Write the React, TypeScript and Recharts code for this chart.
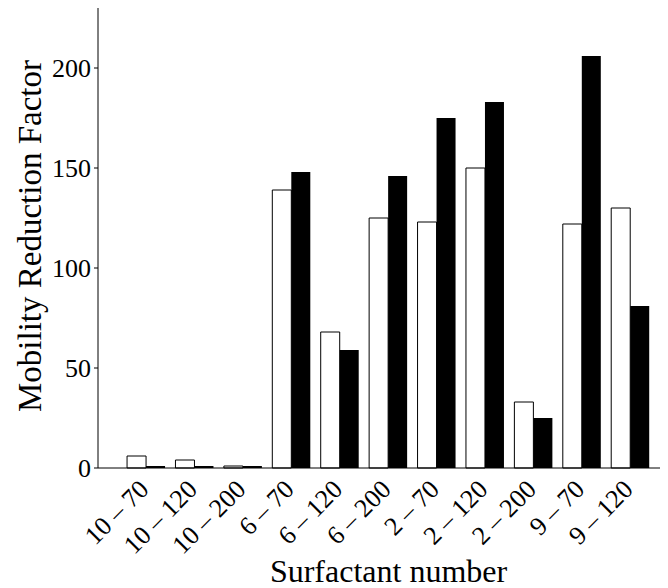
import { BarChart, Bar, XAxis, YAxis } from 'recharts';

const categories = ['10 – 70', '10 – 120', '10 – 200', '6 – 70', '6 – 120', '6 – 200', '2 – 70', '2 – 120', '2 – 200', '9 – 70', '9 – 120'];
const whiteValues = [6, 4, 1, 139, 68, 125, 123, 150, 33, 122, 130];
const blackValues = [1, 1, 1, 148, 59, 146, 175, 183, 25, 206, 81];
const yTicks = [0, 50, 100, 150, 200];

const data = categories.map((name, i) => ({
    x: i + 1,
    name,
    a: whiteValues[i],
    b: blackValues[i],
}));

const FONT = '"Liberation Serif", "Times New Roman", serif';

const XTick = (props: any) => {
    const { x, y, payload } = props;
    const label = categories[payload.value - 1] ?? '';
    return (
        <g transform={`translate(${x - 9},${y + 2})`}>
            <text x={0} y={0} dy="0.7em" textAnchor="end" transform="rotate(-45)"
                fontFamily={FONT} fontSize={26} fill="#000">
                {label}
            </text>
        </g>
    );
};

export default function App() {
    return (
        <div style={{ width: 660, height: 580, overflow: 'hidden' }}>
            <BarChart width={672} height={580} data={data} barGap={0} barCategoryGap="10%"
                margin={{ top: 0, right: 1, left: 0, bottom: 0 }}>
                <XAxis dataKey="x" type="number" domain={[0, 12]} ticks={[1, 2, 3, 4, 5, 6, 7, 8, 9, 10, 11]}
                    interval={0} tickLine={false} axisLine={{ stroke: '#000' }} height={120}
                    tick={<XTick />}
                    label={{
                        value: 'Surfactant number', position: 'insideBottom', offset: 6,
                        style: { fontFamily: FONT, fontSize: 32, fill: '#000' },
                    }} />
                <YAxis domain={[0, 230]} ticks={yTicks} width={90} tickSize={4} tickMargin={3}
                    axisLine={{ stroke: '#000' }} tickLine={{ stroke: '#000' }}
                    tick={{ fontFamily: FONT, fontSize: 26, fill: '#000' }}
                    label={{
                        content: () => (
                            <text x={0} y={0} transform="translate(22,228) rotate(-90)" textAnchor="middle"
                                dominantBaseline="central" fontFamily={FONT} fontSize={33} fill="#000">
                                Mobility Reduction Factor
                            </text>
                        ),
                    }} />
                <Bar dataKey="a" fill="#fff" stroke="#000" strokeWidth={1} isAnimationActive={false} />
                <Bar dataKey="b" fill="#000" isAnimationActive={false} />
            </BarChart>
        </div>
    );
}
